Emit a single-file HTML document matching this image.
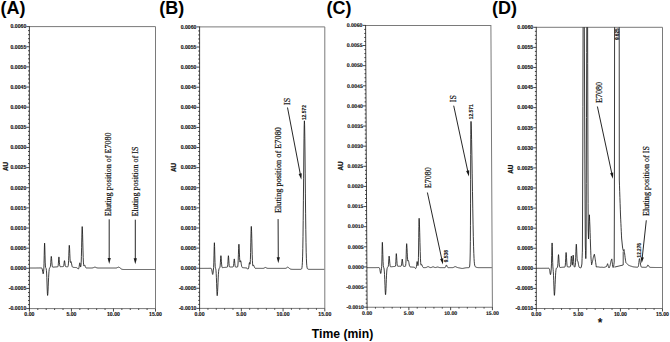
<!DOCTYPE html><html><head><meta charset="utf-8"><style>html,body{margin:0;padding:0;background:#fff;width:670px;height:342px;overflow:hidden}svg{display:block}</style></head><body><svg width="670" height="342" viewBox="0 0 670 342">
<rect width="670" height="342" fill="#fff"/>
<defs>
<clipPath id="clipA"><rect x="29.4" y="26.6" width="126.1" height="312.0"/></clipPath>
<clipPath id="clipB"><rect x="199.6" y="26.9" width="125.20000000000002" height="311.5"/></clipPath>
<clipPath id="clipC"><rect x="367.1" y="25.4" width="125.29999999999995" height="311.8"/></clipPath>
<clipPath id="clipD"><rect x="536.3" y="27.3" width="126.20000000000005" height="311.2"/></clipPath>
</defs>
<g>
<path d="M29.4,26.6H155.5V308.6H29.4" fill="none" stroke="#7a7a7a" stroke-width="1"/>
<path d="M29.4,26.200000000000003V309.0" fill="none" stroke="#3a3a3a" stroke-width="0.95"/>
<path d="M26.40,26.60H29.4M28.00,30.63H29.4M28.00,34.66H29.4M28.00,38.69H29.4M28.00,42.71H29.4M26.40,46.74H29.4M28.00,50.77H29.4M28.00,54.80H29.4M28.00,58.83H29.4M28.00,62.86H29.4M26.40,66.89H29.4M28.00,70.91H29.4M28.00,74.94H29.4M28.00,78.97H29.4M28.00,83.00H29.4M26.40,87.03H29.4M28.00,91.06H29.4M28.00,95.09H29.4M28.00,99.11H29.4M28.00,103.14H29.4M26.40,107.17H29.4M28.00,111.20H29.4M28.00,115.23H29.4M28.00,119.26H29.4M28.00,123.29H29.4M26.40,127.31H29.4M28.00,131.34H29.4M28.00,135.37H29.4M28.00,139.40H29.4M28.00,143.43H29.4M26.40,147.46H29.4M28.00,151.49H29.4M28.00,155.51H29.4M28.00,159.54H29.4M28.00,163.57H29.4M26.40,167.60H29.4M28.00,171.63H29.4M28.00,175.66H29.4M28.00,179.69H29.4M28.00,183.71H29.4M26.40,187.74H29.4M28.00,191.77H29.4M28.00,195.80H29.4M28.00,199.83H29.4M28.00,203.86H29.4M26.40,207.89H29.4M28.00,211.91H29.4M28.00,215.94H29.4M28.00,219.97H29.4M28.00,224.00H29.4M26.40,228.03H29.4M28.00,232.06H29.4M28.00,236.09H29.4M28.00,240.11H29.4M28.00,244.14H29.4M26.40,248.17H29.4M28.00,252.20H29.4M28.00,256.23H29.4M28.00,260.26H29.4M28.00,264.29H29.4M26.40,268.31H29.4M28.00,272.34H29.4M28.00,276.37H29.4M28.00,280.40H29.4M28.00,284.43H29.4M26.40,288.46H29.4M28.00,292.49H29.4M28.00,296.51H29.4M28.00,300.54H29.4M28.00,304.57H29.4M26.40,308.60H29.4M29.40,308.6V311.6M37.81,308.6V310.0M46.21,308.6V310.0M54.62,308.6V310.0M63.03,308.6V310.0M71.43,308.6V311.6M79.84,308.6V310.0M88.25,308.6V310.0M96.65,308.6V310.0M105.06,308.6V310.0M113.47,308.6V311.6M121.87,308.6V310.0M130.28,308.6V310.0M138.69,308.6V310.0M147.09,308.6V310.0M155.50,308.6V311.6" stroke="#1a1a1a" stroke-width="0.8" fill="none"/>
<text x="26.30" y="28.40" font-family='"Liberation Sans", sans-serif' font-size="5.2" font-weight="bold" text-anchor="end" fill="#111" stroke="#111" stroke-width="0.12">0.0060</text>
<text x="26.30" y="48.54" font-family='"Liberation Sans", sans-serif' font-size="5.2" font-weight="bold" text-anchor="end" fill="#111" stroke="#111" stroke-width="0.12">0.0055</text>
<text x="26.30" y="68.69" font-family='"Liberation Sans", sans-serif' font-size="5.2" font-weight="bold" text-anchor="end" fill="#111" stroke="#111" stroke-width="0.12">0.0050</text>
<text x="26.30" y="88.83" font-family='"Liberation Sans", sans-serif' font-size="5.2" font-weight="bold" text-anchor="end" fill="#111" stroke="#111" stroke-width="0.12">0.0045</text>
<text x="26.30" y="108.97" font-family='"Liberation Sans", sans-serif' font-size="5.2" font-weight="bold" text-anchor="end" fill="#111" stroke="#111" stroke-width="0.12">0.0040</text>
<text x="26.30" y="129.11" font-family='"Liberation Sans", sans-serif' font-size="5.2" font-weight="bold" text-anchor="end" fill="#111" stroke="#111" stroke-width="0.12">0.0035</text>
<text x="26.30" y="149.26" font-family='"Liberation Sans", sans-serif' font-size="5.2" font-weight="bold" text-anchor="end" fill="#111" stroke="#111" stroke-width="0.12">0.0030</text>
<text x="26.30" y="169.40" font-family='"Liberation Sans", sans-serif' font-size="5.2" font-weight="bold" text-anchor="end" fill="#111" stroke="#111" stroke-width="0.12">0.0025</text>
<text x="26.30" y="189.54" font-family='"Liberation Sans", sans-serif' font-size="5.2" font-weight="bold" text-anchor="end" fill="#111" stroke="#111" stroke-width="0.12">0.0020</text>
<text x="26.30" y="209.69" font-family='"Liberation Sans", sans-serif' font-size="5.2" font-weight="bold" text-anchor="end" fill="#111" stroke="#111" stroke-width="0.12">0.0015</text>
<text x="26.30" y="229.83" font-family='"Liberation Sans", sans-serif' font-size="5.2" font-weight="bold" text-anchor="end" fill="#111" stroke="#111" stroke-width="0.12">0.0010</text>
<text x="26.30" y="249.97" font-family='"Liberation Sans", sans-serif' font-size="5.2" font-weight="bold" text-anchor="end" fill="#111" stroke="#111" stroke-width="0.12">0.0005</text>
<text x="26.30" y="270.11" font-family='"Liberation Sans", sans-serif' font-size="5.2" font-weight="bold" text-anchor="end" fill="#111" stroke="#111" stroke-width="0.12">0.0000</text>
<text x="26.30" y="290.26" font-family='"Liberation Sans", sans-serif' font-size="5.2" font-weight="bold" text-anchor="end" fill="#111" stroke="#111" stroke-width="0.12">-0.0005</text>
<text x="26.30" y="310.40" font-family='"Liberation Sans", sans-serif' font-size="5.2" font-weight="bold" text-anchor="end" fill="#111" stroke="#111" stroke-width="0.12">-0.0010</text>
<text x="29.40" y="315.90" font-family='"Liberation Sans", sans-serif' font-size="5.2" font-weight="bold" text-anchor="middle" fill="#111" stroke="#111" stroke-width="0.12">0.00</text>
<text x="71.43" y="315.90" font-family='"Liberation Sans", sans-serif' font-size="5.2" font-weight="bold" text-anchor="middle" fill="#111" stroke="#111" stroke-width="0.12">5.00</text>
<text x="113.47" y="315.90" font-family='"Liberation Sans", sans-serif' font-size="5.2" font-weight="bold" text-anchor="middle" fill="#111" stroke="#111" stroke-width="0.12">10.00</text>
<text x="155.50" y="315.90" font-family='"Liberation Sans", sans-serif' font-size="5.2" font-weight="bold" text-anchor="middle" fill="#111" stroke="#111" stroke-width="0.12">15.00</text>
<path d="M29.40,268.01 L29.60,268.01 L29.80,268.01 L30.00,268.01 L30.20,268.01 L30.40,268.01 L30.60,268.01 L30.80,268.01 L31.00,268.01 L31.20,268.01 L31.40,268.01 L31.60,268.01 L31.80,268.01 L32.00,268.01 L32.20,268.01 L32.40,268.01 L32.60,268.01 L32.80,268.01 L33.00,268.01 L33.20,268.01 L33.40,268.01 L33.60,268.01 L33.80,268.01 L34.00,268.00 L34.20,268.00 L34.40,268.00 L34.60,268.00 L34.80,268.00 L35.00,268.00 L35.20,268.00 L35.40,268.00 L35.60,268.00 L35.80,268.00 L36.00,268.00 L36.20,267.99 L36.40,267.99 L36.60,267.99 L36.80,267.99 L37.00,267.99 L37.20,267.99 L37.40,267.98 L37.60,267.98 L37.80,267.98 L38.00,267.98 L38.20,267.98 L38.40,267.97 L38.60,267.97 L38.80,267.97 L39.00,267.97 L39.20,267.96 L39.40,267.96 L39.60,267.96 L39.80,267.95 L40.00,267.95 L40.20,267.95 L40.40,267.94 L40.60,267.94 L40.80,267.94 L41.00,267.93 L41.20,267.94 L41.40,267.95 L41.60,268.00 L41.80,268.15 L42.00,268.46 L42.20,269.05 L42.40,269.98 L42.60,271.20 L42.80,272.49 L43.00,273.49 L43.20,273.86 L43.40,273.33 L43.60,271.79 L43.80,268.95 L44.00,263.80 L44.20,255.74 L44.40,247.10 L44.60,243.14 L44.80,246.78 L45.00,254.90 L45.20,262.09 L45.40,265.97 L45.60,267.39 L45.80,267.82 L46.00,268.14 L46.20,268.83 L46.40,270.30 L46.60,273.04 L46.80,277.35 L47.00,283.02 L47.20,289.02 L47.40,293.69 L47.60,295.45 L47.80,294.33 L48.00,291.24 L48.20,286.86 L48.40,282.07 L48.60,277.60 L48.80,273.96 L49.00,271.31 L49.20,269.58 L49.40,268.54 L49.60,267.97 L49.80,267.68 L50.00,267.49 L50.20,267.23 L50.40,266.57 L50.60,265.05 L50.80,262.37 L51.00,259.08 L51.20,256.71 L51.30,256.36 L51.40,256.62 L51.60,258.52 L51.80,261.38 L52.00,264.02 L52.20,265.79 L52.40,266.70 L52.60,267.07 L52.80,267.18 L53.00,267.19 L53.20,267.18 L53.40,267.16 L53.60,267.15 L53.80,267.13 L54.00,267.11 L54.20,267.09 L54.40,267.07 L54.60,267.05 L54.80,267.03 L55.00,267.02 L55.20,267.00 L55.40,266.98 L55.60,266.96 L55.80,266.94 L56.00,266.93 L56.20,266.91 L56.40,266.89 L56.60,266.88 L56.80,266.86 L57.00,266.84 L57.20,266.83 L57.40,266.81 L57.60,266.79 L57.80,266.72 L58.00,266.41 L58.20,265.43 L58.40,263.21 L58.60,259.95 L58.80,257.31 L58.90,256.92 L59.00,257.21 L59.20,259.30 L59.40,262.20 L59.60,264.56 L59.80,265.89 L60.00,266.44 L60.20,266.61 L60.40,266.64 L60.60,266.64 L60.80,266.64 L61.00,266.63 L61.20,266.63 L61.40,266.62 L61.60,266.62 L61.80,266.62 L62.00,266.62 L62.20,266.61 L62.40,266.61 L62.60,266.61 L62.80,266.61 L63.00,266.61 L63.20,266.59 L63.40,266.49 L63.60,266.15 L63.80,265.33 L64.00,263.89 L64.20,262.11 L64.40,260.83 L64.50,260.65 L64.60,260.84 L64.80,262.13 L65.00,263.92 L65.20,265.38 L65.40,266.21 L65.60,266.56 L65.80,266.68 L66.00,266.72 L66.20,266.73 L66.40,266.75 L66.60,266.76 L66.80,266.77 L67.00,266.79 L67.20,266.80 L67.40,266.81 L67.60,266.81 L67.80,266.76 L68.00,266.53 L68.20,265.78 L68.40,263.96 L68.60,260.44 L68.80,255.22 L69.00,249.57 L69.20,245.78 L69.30,245.25 L69.40,245.68 L69.60,248.76 L69.80,253.55 L70.00,258.15 L70.20,261.23 L70.40,262.46 L70.60,262.36 L70.80,261.79 L71.00,261.56 L71.20,261.93 L71.40,262.76 L71.60,263.85 L71.80,264.94 L72.00,265.85 L72.20,266.50 L72.40,266.90 L72.60,267.12 L72.80,267.24 L73.00,267.29 L73.20,267.33 L73.40,267.35 L73.60,267.37 L73.80,267.39 L74.00,267.40 L74.20,267.42 L74.40,267.44 L74.60,267.46 L74.80,267.47 L75.00,267.49 L75.20,267.51 L75.40,267.52 L75.60,267.54 L75.80,267.55 L76.00,267.57 L76.20,267.58 L76.40,267.60 L76.60,267.62 L76.80,267.65 L77.00,267.71 L77.20,267.83 L77.40,268.03 L77.60,268.31 L77.80,268.63 L78.00,268.90 L78.20,269.01 L78.40,268.92 L78.60,268.63 L78.80,268.16 L79.00,267.44 L79.20,266.32 L79.40,264.82 L79.60,263.40 L79.80,262.81 L80.00,263.39 L80.20,264.77 L80.40,266.14 L80.60,266.91 L80.80,266.80 L81.00,265.47 L81.20,262.26 L81.40,256.38 L81.60,247.77 L81.80,237.89 L82.00,229.76 L82.20,226.59 L82.40,228.83 L82.60,234.83 L82.80,242.85 L83.00,250.90 L83.20,257.52 L83.40,262.07 L83.60,264.62 L83.80,265.63 L84.00,265.66 L84.20,265.27 L84.40,264.95 L84.50,264.92 L84.60,264.97 L84.80,265.30 L85.00,265.83 L85.20,266.44 L85.40,266.99 L85.60,267.40 L85.80,267.68 L86.00,267.84 L86.20,267.92 L86.40,267.95 L86.60,267.97 L86.80,267.98 L87.00,267.98 L87.20,267.98 L87.40,267.98 L87.60,267.99 L87.80,267.99 L88.00,267.99 L88.20,267.99 L88.40,267.99 L88.60,267.99 L88.80,268.00 L89.00,268.00 L89.20,268.00 L89.40,268.00 L89.60,268.00 L89.80,268.00 L90.00,268.00 L90.20,268.00 L90.40,268.00 L90.60,268.00 L90.80,268.00 L91.00,268.00 L91.20,268.00 L91.40,268.00 L91.60,267.99 L91.80,267.98 L92.00,267.96 L92.20,267.94 L92.40,267.92 L92.60,267.88 L92.80,267.84 L93.00,267.78 L93.20,267.72 L93.40,267.64 L93.60,267.57 L93.80,267.49 L94.00,267.41 L94.20,267.34 L94.40,267.28 L94.60,267.24 L94.80,267.21 L94.90,267.21 L95.00,267.22 L95.20,267.24 L95.40,267.28 L95.60,267.34 L95.80,267.41 L96.00,267.49 L96.20,267.57 L96.40,267.65 L96.60,267.72 L96.80,267.78 L97.00,267.84 L97.20,267.89 L97.40,267.92 L97.60,267.95 L97.80,267.97 L98.00,267.99 L98.20,268.00 L98.40,268.00 L98.60,268.01 L98.80,268.01 L99.00,268.01 L99.20,268.01 L99.40,268.01 L99.60,268.01 L99.80,268.01 L100.00,268.01 L100.20,268.01 L100.40,268.01 L100.60,268.01 L100.80,268.01 L101.00,268.01 L101.20,268.01 L101.40,268.01 L101.60,268.01 L101.80,268.01 L102.00,268.01 L102.20,268.01 L102.40,268.01 L102.60,268.01 L102.80,268.01 L103.00,268.01 L103.20,268.01 L103.40,268.01 L103.60,268.01 L103.80,268.01 L104.00,268.01 L104.20,268.01 L104.40,268.01 L104.60,268.01 L104.80,268.01 L105.00,268.01 L105.20,268.01 L105.40,268.01 L105.60,268.01 L105.80,268.01 L106.00,268.01 L106.20,268.01 L106.40,268.01 L106.60,268.01 L106.80,268.01 L107.00,268.01 L107.20,268.01 L107.40,268.01 L107.60,268.01 L107.80,268.01 L108.00,268.01 L108.20,268.01 L108.40,268.01 L108.60,268.01 L108.80,268.01 L109.00,268.01 L109.20,268.01 L109.40,268.01 L109.60,268.01 L109.80,268.01 L110.00,268.01 L110.20,268.01 L110.40,268.01 L110.60,268.01 L110.80,268.01 L111.00,268.01 L111.20,268.01 L111.40,268.01 L111.60,268.01 L111.80,268.01 L112.00,268.01 L112.20,268.01 L112.40,268.01 L112.60,268.01 L112.80,268.01 L113.00,268.01 L113.20,268.01 L113.40,268.01 L113.60,268.01 L113.80,268.01 L114.00,268.01 L114.20,268.01 L114.40,268.01 L114.60,268.01 L114.80,268.01 L115.00,268.01 L115.20,268.01 L115.40,268.01 L115.60,268.01 L115.80,268.00 L116.00,267.99 L116.20,267.97 L116.40,267.94 L116.60,267.90 L116.80,267.84 L117.00,267.77 L117.20,267.69 L117.40,267.59 L117.60,267.49 L117.80,267.39 L118.00,267.30 L118.20,267.23 L118.40,267.19 L118.60,267.20 L118.80,267.23 L119.00,267.28 L119.20,267.36 L119.40,267.46 L119.60,267.58 L119.80,267.72 L120.00,267.88 L120.20,268.05 L120.40,268.22 L120.60,268.39 L120.80,268.56 L121.00,268.72 L121.20,268.87 L121.40,268.99 L121.60,269.10 L121.80,269.19 L122.00,269.27 L122.20,269.33 L122.40,269.37 L122.60,269.41 L122.80,269.43 L123.00,269.45 L123.20,269.47 L123.40,269.48 L123.60,269.49 L123.80,269.50 L124.00,269.50 L124.20,269.50 L124.40,269.51 L124.60,269.51 L124.80,269.51 L125.00,269.51 L125.20,269.51 L125.40,269.51 L125.60,269.51 L125.80,269.51 L126.00,269.51 L126.20,269.51 L126.40,269.51 L126.60,269.51 L126.80,269.51 L127.00,269.51 L127.20,269.51 L127.40,269.51 L127.60,269.51 L127.80,269.51 L128.00,269.51 L128.20,269.51 L128.40,269.51 L128.60,269.51 L128.80,269.51 L129.00,269.51 L129.20,269.51 L129.40,269.51 L129.60,269.51 L129.80,269.51 L130.00,269.51 L130.20,269.51 L130.40,269.51 L130.60,269.51 L130.80,269.51 L131.00,269.51 L131.20,269.51 L131.40,269.51 L131.60,269.51 L131.80,269.51 L132.00,269.51 L132.20,269.51 L132.40,269.51 L132.60,269.51 L132.80,269.51 L133.00,269.51 L133.20,269.51 L133.40,269.51 L133.60,269.51 L133.80,269.51 L134.00,269.51 L134.20,269.51 L134.40,269.51 L134.60,269.51 L134.80,269.51 L135.00,269.51 L135.20,269.51 L135.40,269.51 L135.60,269.51 L135.80,269.51 L136.00,269.51 L136.20,269.51 L136.40,269.51 L136.60,269.51 L136.80,269.51 L137.00,269.51 L137.20,269.51 L137.40,269.51 L137.60,269.51 L137.80,269.51 L138.00,269.51 L138.20,269.51 L138.40,269.51 L138.60,269.51 L138.80,269.51 L139.00,269.51 L139.20,269.51 L139.40,269.51 L139.60,269.51 L139.80,269.51 L140.00,269.51 L140.20,269.51 L140.40,269.51 L140.60,269.51 L140.80,269.51 L141.00,269.51 L141.20,269.51 L141.40,269.51 L141.60,269.51 L141.80,269.51 L142.00,269.51 L142.20,269.51 L142.40,269.51 L142.60,269.51 L142.80,269.51 L143.00,269.51 L143.20,269.51 L143.40,269.51 L143.60,269.51 L143.80,269.51 L144.00,269.51 L144.20,269.51 L144.40,269.51 L144.60,269.51 L144.80,269.51 L145.00,269.51 L145.20,269.51 L145.40,269.51 L145.60,269.51 L145.80,269.51 L146.00,269.51 L146.20,269.51 L146.40,269.51 L146.60,269.51 L146.80,269.51 L147.00,269.51 L147.20,269.51 L147.40,269.51 L147.60,269.51 L147.80,269.51 L148.00,269.51 L148.20,269.51 L148.40,269.51 L148.60,269.51 L148.80,269.51 L149.00,269.51 L149.20,269.51 L149.40,269.51 L149.60,269.51 L149.80,269.51 L150.00,269.51 L150.20,269.51 L150.40,269.51 L150.60,269.51 L150.80,269.51 L151.00,269.51 L151.20,269.51 L151.40,269.51 L151.60,269.51 L151.80,269.51 L152.00,269.51 L152.20,269.51 L152.40,269.51 L152.60,269.51 L152.80,269.51 L153.00,269.51 L153.20,269.51 L153.40,269.51 L153.60,269.51 L153.80,269.51 L154.00,269.51 L154.20,269.51 L154.40,269.51 L154.60,269.51 L154.80,269.51 L155.00,269.51" fill="none" stroke="#1a1a1a" stroke-width="0.85" stroke-linejoin="round" clip-path="url(#clipA)"/>
</g>
<text transform="translate(7.80,166.50) rotate(-90)" font-family='"Liberation Sans", sans-serif' font-weight="bold" font-size="6.3" text-anchor="middle" fill="#111" stroke="#111" stroke-width="0.25">AU</text>
<g>
<path d="M199.6,26.9H324.8V308.4H199.6" fill="none" stroke="#7a7a7a" stroke-width="1"/>
<path d="M199.6,26.5V308.79999999999995" fill="none" stroke="#3a3a3a" stroke-width="0.95"/>
<path d="M196.60,26.90H199.6M198.20,30.92H199.6M198.20,34.94H199.6M198.20,38.96H199.6M198.20,42.99H199.6M196.60,47.01H199.6M198.20,51.03H199.6M198.20,55.05H199.6M198.20,59.07H199.6M198.20,63.09H199.6M196.60,67.11H199.6M198.20,71.14H199.6M198.20,75.16H199.6M198.20,79.18H199.6M198.20,83.20H199.6M196.60,87.22H199.6M198.20,91.24H199.6M198.20,95.26H199.6M198.20,99.29H199.6M198.20,103.31H199.6M196.60,107.33H199.6M198.20,111.35H199.6M198.20,115.37H199.6M198.20,119.39H199.6M198.20,123.41H199.6M196.60,127.44H199.6M198.20,131.46H199.6M198.20,135.48H199.6M198.20,139.50H199.6M198.20,143.52H199.6M196.60,147.54H199.6M198.20,151.56H199.6M198.20,155.59H199.6M198.20,159.61H199.6M198.20,163.63H199.6M196.60,167.65H199.6M198.20,171.67H199.6M198.20,175.69H199.6M198.20,179.71H199.6M198.20,183.74H199.6M196.60,187.76H199.6M198.20,191.78H199.6M198.20,195.80H199.6M198.20,199.82H199.6M198.20,203.84H199.6M196.60,207.86H199.6M198.20,211.89H199.6M198.20,215.91H199.6M198.20,219.93H199.6M198.20,223.95H199.6M196.60,227.97H199.6M198.20,231.99H199.6M198.20,236.01H199.6M198.20,240.04H199.6M198.20,244.06H199.6M196.60,248.08H199.6M198.20,252.10H199.6M198.20,256.12H199.6M198.20,260.14H199.6M198.20,264.16H199.6M196.60,268.19H199.6M198.20,272.21H199.6M198.20,276.23H199.6M198.20,280.25H199.6M198.20,284.27H199.6M196.60,288.29H199.6M198.20,292.31H199.6M198.20,296.34H199.6M198.20,300.36H199.6M198.20,304.38H199.6M196.60,308.40H199.6M199.60,308.4V311.4M207.95,308.4V309.79999999999995M216.29,308.4V309.79999999999995M224.64,308.4V309.79999999999995M232.99,308.4V309.79999999999995M241.33,308.4V311.4M249.68,308.4V309.79999999999995M258.03,308.4V309.79999999999995M266.37,308.4V309.79999999999995M274.72,308.4V309.79999999999995M283.07,308.4V311.4M291.41,308.4V309.79999999999995M299.76,308.4V309.79999999999995M308.11,308.4V309.79999999999995M316.45,308.4V309.79999999999995M324.80,308.4V311.4" stroke="#1a1a1a" stroke-width="0.8" fill="none"/>
<text x="196.50" y="28.70" font-family='"Liberation Sans", sans-serif' font-size="5.2" font-weight="bold" text-anchor="end" fill="#111" stroke="#111" stroke-width="0.12">0.0060</text>
<text x="196.50" y="48.81" font-family='"Liberation Sans", sans-serif' font-size="5.2" font-weight="bold" text-anchor="end" fill="#111" stroke="#111" stroke-width="0.12">0.0055</text>
<text x="196.50" y="68.91" font-family='"Liberation Sans", sans-serif' font-size="5.2" font-weight="bold" text-anchor="end" fill="#111" stroke="#111" stroke-width="0.12">0.0050</text>
<text x="196.50" y="89.02" font-family='"Liberation Sans", sans-serif' font-size="5.2" font-weight="bold" text-anchor="end" fill="#111" stroke="#111" stroke-width="0.12">0.0045</text>
<text x="196.50" y="109.13" font-family='"Liberation Sans", sans-serif' font-size="5.2" font-weight="bold" text-anchor="end" fill="#111" stroke="#111" stroke-width="0.12">0.0040</text>
<text x="196.50" y="129.24" font-family='"Liberation Sans", sans-serif' font-size="5.2" font-weight="bold" text-anchor="end" fill="#111" stroke="#111" stroke-width="0.12">0.0035</text>
<text x="196.50" y="149.34" font-family='"Liberation Sans", sans-serif' font-size="5.2" font-weight="bold" text-anchor="end" fill="#111" stroke="#111" stroke-width="0.12">0.0030</text>
<text x="196.50" y="169.45" font-family='"Liberation Sans", sans-serif' font-size="5.2" font-weight="bold" text-anchor="end" fill="#111" stroke="#111" stroke-width="0.12">0.0025</text>
<text x="196.50" y="189.56" font-family='"Liberation Sans", sans-serif' font-size="5.2" font-weight="bold" text-anchor="end" fill="#111" stroke="#111" stroke-width="0.12">0.0020</text>
<text x="196.50" y="209.66" font-family='"Liberation Sans", sans-serif' font-size="5.2" font-weight="bold" text-anchor="end" fill="#111" stroke="#111" stroke-width="0.12">0.0015</text>
<text x="196.50" y="229.77" font-family='"Liberation Sans", sans-serif' font-size="5.2" font-weight="bold" text-anchor="end" fill="#111" stroke="#111" stroke-width="0.12">0.0010</text>
<text x="196.50" y="249.88" font-family='"Liberation Sans", sans-serif' font-size="5.2" font-weight="bold" text-anchor="end" fill="#111" stroke="#111" stroke-width="0.12">0.0005</text>
<text x="196.50" y="269.99" font-family='"Liberation Sans", sans-serif' font-size="5.2" font-weight="bold" text-anchor="end" fill="#111" stroke="#111" stroke-width="0.12">0.0000</text>
<text x="196.50" y="290.09" font-family='"Liberation Sans", sans-serif' font-size="5.2" font-weight="bold" text-anchor="end" fill="#111" stroke="#111" stroke-width="0.12">-0.0005</text>
<text x="196.50" y="310.20" font-family='"Liberation Sans", sans-serif' font-size="5.2" font-weight="bold" text-anchor="end" fill="#111" stroke="#111" stroke-width="0.12">-0.0010</text>
<text x="199.60" y="315.70" font-family='"Liberation Sans", sans-serif' font-size="5.2" font-weight="bold" text-anchor="middle" fill="#111" stroke="#111" stroke-width="0.12">0.00</text>
<text x="241.33" y="315.70" font-family='"Liberation Sans", sans-serif' font-size="5.2" font-weight="bold" text-anchor="middle" fill="#111" stroke="#111" stroke-width="0.12">5.00</text>
<text x="283.07" y="315.70" font-family='"Liberation Sans", sans-serif' font-size="5.2" font-weight="bold" text-anchor="middle" fill="#111" stroke="#111" stroke-width="0.12">10.00</text>
<text x="324.80" y="315.70" font-family='"Liberation Sans", sans-serif' font-size="5.2" font-weight="bold" text-anchor="middle" fill="#111" stroke="#111" stroke-width="0.12">15.00</text>
<path d="M199.60,268.38 L199.80,268.38 L200.00,268.38 L200.20,268.38 L200.40,268.38 L200.60,268.38 L200.80,268.38 L201.00,268.38 L201.20,268.38 L201.40,268.38 L201.60,268.38 L201.80,268.38 L202.00,268.38 L202.20,268.38 L202.40,268.38 L202.60,268.38 L202.80,268.38 L203.00,268.38 L203.20,268.38 L203.40,268.38 L203.60,268.38 L203.80,268.38 L204.00,268.38 L204.20,268.38 L204.40,268.38 L204.60,268.37 L204.80,268.37 L205.00,268.37 L205.20,268.37 L205.40,268.37 L205.60,268.37 L205.80,268.37 L206.00,268.37 L206.20,268.37 L206.40,268.37 L206.60,268.36 L206.80,268.36 L207.00,268.36 L207.20,268.36 L207.40,268.36 L207.60,268.36 L207.80,268.35 L208.00,268.35 L208.20,268.35 L208.40,268.35 L208.60,268.35 L208.80,268.34 L209.00,268.34 L209.20,268.34 L209.40,268.34 L209.60,268.33 L209.80,268.33 L210.00,268.33 L210.20,268.32 L210.40,268.32 L210.60,268.32 L210.80,268.33 L211.00,268.36 L211.20,268.45 L211.40,268.68 L211.60,269.13 L211.80,269.91 L212.00,271.04 L212.20,272.38 L212.40,273.62 L212.60,274.37 L212.70,274.46 L212.80,274.34 L213.00,273.43 L213.20,271.94 L213.40,270.14 L213.60,267.59 L213.80,262.91 L214.00,255.16 L214.20,246.62 L214.40,242.72 L214.60,246.54 L214.80,254.92 L215.00,262.32 L215.20,266.34 L215.40,267.86 L215.60,268.48 L215.80,269.21 L216.00,270.68 L216.20,273.40 L216.40,277.69 L216.60,283.32 L216.80,289.27 L217.00,293.91 L217.20,295.66 L217.40,294.55 L217.60,291.48 L217.80,287.14 L218.00,282.37 L218.20,277.94 L218.40,274.33 L218.60,271.70 L218.80,269.98 L219.00,268.95 L219.20,268.39 L219.40,268.10 L219.60,267.91 L219.80,267.63 L220.00,266.91 L220.20,265.23 L220.40,262.29 L220.60,258.68 L220.80,256.07 L220.90,255.68 L221.00,255.97 L221.20,258.07 L221.40,261.21 L221.60,264.11 L221.80,266.07 L222.00,267.08 L222.20,267.48 L222.40,267.60 L222.60,267.62 L222.80,267.61 L223.00,267.59 L223.20,267.57 L223.40,267.56 L223.60,267.54 L223.80,267.52 L224.00,267.50 L224.20,267.48 L224.40,267.46 L224.60,267.44 L224.80,267.42 L225.00,267.41 L225.20,267.39 L225.40,267.37 L225.60,267.35 L225.80,267.33 L226.00,267.32 L226.20,267.30 L226.40,267.28 L226.60,267.26 L226.80,267.25 L227.00,267.23 L227.20,267.18 L227.40,267.01 L227.60,266.35 L227.80,264.55 L228.00,261.22 L228.20,257.46 L228.40,255.73 L228.60,257.06 L228.80,260.19 L229.00,263.39 L229.20,265.54 L229.40,266.57 L229.60,266.93 L229.80,267.03 L230.00,267.04 L230.20,267.03 L230.40,267.03 L230.60,267.02 L230.80,267.01 L231.00,267.01 L231.20,267.00 L231.40,267.00 L231.60,266.99 L231.80,266.99 L232.00,266.99 L232.20,266.99 L232.40,266.99 L232.60,266.98 L232.80,266.98 L233.00,266.95 L233.20,266.80 L233.40,266.35 L233.60,265.24 L233.80,263.29 L234.00,260.89 L234.20,259.16 L234.30,258.91 L234.40,259.16 L234.60,260.91 L234.80,263.32 L235.00,265.28 L235.20,266.40 L235.40,266.87 L235.60,267.02 L235.80,267.06 L236.00,267.08 L236.20,267.09 L236.40,267.11 L236.60,267.12 L236.80,267.13 L237.00,267.14 L237.20,267.14 L237.40,267.08 L237.60,266.83 L237.80,266.04 L238.00,264.09 L238.20,260.34 L238.40,254.79 L238.60,248.77 L238.80,244.73 L238.90,244.17 L239.00,244.62 L239.20,247.89 L239.40,252.95 L239.60,257.77 L239.80,260.93 L240.00,262.07 L240.20,261.75 L240.40,260.98 L240.60,260.67 L240.80,261.11 L241.00,262.11 L241.20,263.43 L241.40,264.76 L241.60,265.87 L241.80,266.65 L242.00,267.13 L242.20,267.40 L242.40,267.54 L242.60,267.60 L242.80,267.64 L243.00,267.67 L243.20,267.69 L243.40,267.70 L243.60,267.72 L243.80,267.74 L244.00,267.76 L244.20,267.78 L244.40,267.79 L244.60,267.81 L244.80,267.83 L245.00,267.84 L245.20,267.86 L245.40,267.88 L245.60,267.89 L245.80,267.91 L246.00,267.92 L246.20,267.94 L246.40,267.97 L246.60,268.01 L246.80,268.09 L247.00,268.23 L247.20,268.46 L247.40,268.75 L247.60,269.04 L247.80,269.22 L247.90,269.25 L248.00,269.23 L248.20,269.05 L248.40,268.69 L248.60,268.10 L248.80,267.13 L249.00,265.66 L249.20,263.94 L249.40,262.70 L249.50,262.49 L249.60,262.60 L249.80,263.47 L250.00,264.18 L250.20,263.25 L250.40,259.47 L250.60,252.38 L250.80,242.82 L251.00,233.29 L251.20,227.25 L251.30,226.42 L251.40,227.00 L251.60,231.35 L251.80,238.70 L252.00,247.07 L252.20,254.63 L252.40,260.31 L252.60,263.86 L252.80,265.60 L253.00,266.06 L253.20,265.83 L253.40,265.43 L253.60,265.27 L253.80,265.45 L254.00,265.90 L254.20,266.49 L254.40,267.08 L254.60,267.57 L254.80,267.91 L255.00,268.13 L255.20,268.24 L255.40,268.30 L255.60,268.32 L255.80,268.33 L256.00,268.34 L256.20,268.34 L256.40,268.34 L256.60,268.35 L256.80,268.35 L257.00,268.35 L257.20,268.35 L257.40,268.35 L257.60,268.36 L257.80,268.36 L258.00,268.36 L258.20,268.36 L258.40,268.36 L258.60,268.36 L258.80,268.37 L259.00,268.37 L259.20,268.37 L259.40,268.37 L259.60,268.37 L259.80,268.37 L260.00,268.37 L260.20,268.37 L260.40,268.37 L260.60,268.37 L260.80,268.38 L261.00,268.38 L261.20,268.38 L261.40,268.38 L261.60,268.38 L261.80,268.38 L262.00,268.38 L262.20,268.38 L262.40,268.38 L262.60,268.38 L262.80,268.37 L263.00,268.37 L263.20,268.35 L263.40,268.33 L263.60,268.29 L263.80,268.23 L264.00,268.14 L264.20,268.03 L264.40,267.91 L264.60,267.77 L264.80,267.64 L265.00,267.54 L265.20,267.49 L265.30,267.48 L265.40,267.49 L265.60,267.52 L265.80,267.59 L266.00,267.68 L266.20,267.78 L266.40,267.89 L266.60,268.00 L266.80,268.09 L267.00,268.17 L267.20,268.24 L267.40,268.29 L267.60,268.32 L267.80,268.35 L268.00,268.36 L268.20,268.37 L268.40,268.38 L268.60,268.38 L268.80,268.38 L269.00,268.38 L269.20,268.38 L269.40,268.39 L269.60,268.39 L269.80,268.39 L270.00,268.39 L270.20,268.39 L270.40,268.39 L270.60,268.39 L270.80,268.39 L271.00,268.39 L271.20,268.39 L271.40,268.39 L271.60,268.39 L271.80,268.39 L272.00,268.39 L272.20,268.39 L272.40,268.39 L272.60,268.39 L272.80,268.39 L273.00,268.39 L273.20,268.39 L273.40,268.39 L273.60,268.39 L273.80,268.39 L274.00,268.39 L274.20,268.39 L274.40,268.39 L274.60,268.39 L274.80,268.39 L275.00,268.39 L275.20,268.39 L275.40,268.39 L275.60,268.39 L275.80,268.39 L276.00,268.39 L276.20,268.39 L276.40,268.39 L276.60,268.39 L276.80,268.39 L277.00,268.39 L277.20,268.39 L277.40,268.39 L277.60,268.39 L277.80,268.39 L278.00,268.39 L278.20,268.39 L278.40,268.39 L278.60,268.39 L278.80,268.39 L279.00,268.39 L279.20,268.39 L279.40,268.39 L279.60,268.39 L279.80,268.39 L280.00,268.39 L280.20,268.39 L280.40,268.39 L280.60,268.39 L280.80,268.39 L281.00,268.39 L281.20,268.39 L281.40,268.39 L281.60,268.39 L281.80,268.39 L282.00,268.39 L282.20,268.39 L282.40,268.39 L282.60,268.39 L282.80,268.39 L283.00,268.39 L283.20,268.39 L283.40,268.39 L283.60,268.39 L283.80,268.39 L284.00,268.39 L284.20,268.39 L284.40,268.39 L284.60,268.39 L284.80,268.38 L285.00,268.38 L285.20,268.37 L285.40,268.36 L285.60,268.34 L285.80,268.29 L286.00,268.23 L286.20,268.13 L286.40,268.00 L286.60,267.85 L286.80,267.67 L287.00,267.50 L287.20,267.35 L287.40,267.25 L287.60,267.23 L287.80,267.26 L288.00,267.32 L288.20,267.42 L288.40,267.54 L288.60,267.69 L288.80,267.85 L289.00,268.02 L289.20,268.19 L289.40,268.36 L289.60,268.52 L289.80,268.66 L290.00,268.79 L290.20,268.91 L290.40,269.01 L290.60,269.09 L290.80,269.16 L291.00,269.21 L291.20,269.25 L291.40,269.29 L291.60,269.31 L291.80,269.33 L292.00,269.34 L292.20,269.35 L292.40,269.36 L292.60,269.37 L292.80,269.37 L293.00,269.38 L293.20,269.38 L293.40,269.38 L293.60,269.38 L293.80,269.38 L294.00,269.38 L294.20,269.38 L294.40,269.38 L294.60,269.38 L294.80,269.38 L295.00,269.39 L295.20,269.39 L295.40,269.39 L295.60,269.39 L295.80,269.39 L296.00,269.39 L296.20,269.39 L296.40,269.39 L296.60,269.39 L296.80,269.39 L297.00,269.39 L297.20,269.39 L297.40,269.39 L297.60,269.39 L297.80,269.39 L298.00,269.39 L298.20,269.39 L298.40,269.39 L298.60,269.39 L298.80,269.39 L299.00,269.39 L299.20,269.39 L299.40,269.38 L299.60,269.38 L299.80,269.38 L300.00,269.38 L300.20,269.38 L300.40,269.37 L300.60,269.36 L300.80,269.34 L301.00,269.30 L301.20,269.24 L301.40,269.11 L301.60,268.86 L301.80,268.35 L302.00,267.36 L302.20,265.52 L302.40,262.27 L302.60,256.88 L302.80,248.53 L303.00,236.49 L303.20,220.44 L303.40,200.77 L303.60,178.84 L303.80,157.00 L304.00,138.20 L304.20,125.40 L304.40,120.82 L304.60,124.76 L304.80,136.07 L305.00,153.00 L305.20,173.12 L305.40,193.90 L305.60,213.23 L305.80,229.70 L306.00,242.68 L306.20,252.22 L306.40,258.79 L306.60,263.04 L306.80,265.66 L307.00,267.20 L307.20,268.08 L307.40,268.57 L307.60,268.86 L307.80,269.03 L308.00,269.14 L308.20,269.21 L308.40,269.26 L308.60,269.30 L308.80,269.33 L309.00,269.35 L309.20,269.36 L309.40,269.37 L309.60,269.37 L309.80,269.38 L310.00,269.38 L310.20,269.38 L310.40,269.38 L310.60,269.38 L310.80,269.39 L311.00,269.39 L311.20,269.39 L311.40,269.39 L311.60,269.39 L311.80,269.39 L312.00,269.39 L312.20,269.39 L312.40,269.39 L312.60,269.39 L312.80,269.39 L313.00,269.39 L313.20,269.39 L313.40,269.39 L313.60,269.39 L313.80,269.39 L314.00,269.39 L314.20,269.39 L314.40,269.39 L314.60,269.39 L314.80,269.39 L315.00,269.39 L315.20,269.39 L315.40,269.39 L315.60,269.39 L315.80,269.39 L316.00,269.39 L316.20,269.39 L316.40,269.39 L316.60,269.39 L316.80,269.39 L317.00,269.39 L317.20,269.39 L317.40,269.39 L317.60,269.39 L317.80,269.39 L318.00,269.39 L318.20,269.39 L318.40,269.39 L318.60,269.39 L318.80,269.39 L319.00,269.39 L319.20,269.39 L319.40,269.39 L319.60,269.39 L319.80,269.39 L320.00,269.39 L320.20,269.39 L320.40,269.39 L320.60,269.39 L320.80,269.39 L321.00,269.39 L321.20,269.39 L321.40,269.39 L321.60,269.39 L321.80,269.39 L322.00,269.39 L322.20,269.39 L322.40,269.39 L322.60,269.39 L322.80,269.39 L323.00,269.39 L323.20,269.39 L323.40,269.39 L323.60,269.39 L323.80,269.39 L324.00,269.39 L324.20,269.39" fill="none" stroke="#1a1a1a" stroke-width="0.85" stroke-linejoin="round" clip-path="url(#clipB)"/>
</g>
<text transform="translate(176.00,167.40) rotate(-90)" font-family='"Liberation Sans", sans-serif' font-weight="bold" font-size="6.3" text-anchor="middle" fill="#111" stroke="#111" stroke-width="0.25">AU</text>
<g transform="translate(0,307.2) skewX(0.305) translate(0,-307.2)">
<path d="M367.1,25.4H492.4V307.2H367.1" fill="none" stroke="#7a7a7a" stroke-width="1"/>
<path d="M367.1,25.0V307.59999999999997" fill="none" stroke="#3a3a3a" stroke-width="0.95"/>
<path d="M364.10,25.40H367.1M365.70,29.43H367.1M365.70,33.45H367.1M365.70,37.48H367.1M365.70,41.50H367.1M364.10,45.53H367.1M365.70,49.55H367.1M365.70,53.58H367.1M365.70,57.61H367.1M365.70,61.63H367.1M364.10,65.66H367.1M365.70,69.68H367.1M365.70,73.71H367.1M365.70,77.73H367.1M365.70,81.76H367.1M364.10,85.79H367.1M365.70,89.81H367.1M365.70,93.84H367.1M365.70,97.86H367.1M365.70,101.89H367.1M364.10,105.91H367.1M365.70,109.94H367.1M365.70,113.97H367.1M365.70,117.99H367.1M365.70,122.02H367.1M364.10,126.04H367.1M365.70,130.07H367.1M365.70,134.09H367.1M365.70,138.12H367.1M365.70,142.15H367.1M364.10,146.17H367.1M365.70,150.20H367.1M365.70,154.22H367.1M365.70,158.25H367.1M365.70,162.27H367.1M364.10,166.30H367.1M365.70,170.33H367.1M365.70,174.35H367.1M365.70,178.38H367.1M365.70,182.40H367.1M364.10,186.43H367.1M365.70,190.45H367.1M365.70,194.48H367.1M365.70,198.51H367.1M365.70,202.53H367.1M364.10,206.56H367.1M365.70,210.58H367.1M365.70,214.61H367.1M365.70,218.63H367.1M365.70,222.66H367.1M364.10,226.69H367.1M365.70,230.71H367.1M365.70,234.74H367.1M365.70,238.76H367.1M365.70,242.79H367.1M364.10,246.81H367.1M365.70,250.84H367.1M365.70,254.87H367.1M365.70,258.89H367.1M365.70,262.92H367.1M364.10,266.94H367.1M365.70,270.97H367.1M365.70,274.99H367.1M365.70,279.02H367.1M365.70,283.05H367.1M364.10,287.07H367.1M365.70,291.10H367.1M365.70,295.12H367.1M365.70,299.15H367.1M365.70,303.17H367.1M364.10,307.20H367.1M367.10,307.2V310.2M375.45,307.2V308.59999999999997M383.81,307.2V308.59999999999997M392.16,307.2V308.59999999999997M400.51,307.2V308.59999999999997M408.87,307.2V310.2M417.22,307.2V308.59999999999997M425.57,307.2V308.59999999999997M433.93,307.2V308.59999999999997M442.28,307.2V308.59999999999997M450.63,307.2V310.2M458.99,307.2V308.59999999999997M467.34,307.2V308.59999999999997M475.69,307.2V308.59999999999997M484.05,307.2V308.59999999999997M492.40,307.2V310.2" stroke="#1a1a1a" stroke-width="0.8" fill="none"/>
<text x="364.00" y="27.20" font-family='"Liberation Sans", sans-serif' font-size="5.2" font-weight="bold" text-anchor="end" fill="#111" stroke="#111" stroke-width="0.12">0.0060</text>
<text x="364.00" y="47.33" font-family='"Liberation Sans", sans-serif' font-size="5.2" font-weight="bold" text-anchor="end" fill="#111" stroke="#111" stroke-width="0.12">0.0055</text>
<text x="364.00" y="67.46" font-family='"Liberation Sans", sans-serif' font-size="5.2" font-weight="bold" text-anchor="end" fill="#111" stroke="#111" stroke-width="0.12">0.0050</text>
<text x="364.00" y="87.59" font-family='"Liberation Sans", sans-serif' font-size="5.2" font-weight="bold" text-anchor="end" fill="#111" stroke="#111" stroke-width="0.12">0.0045</text>
<text x="364.00" y="107.71" font-family='"Liberation Sans", sans-serif' font-size="5.2" font-weight="bold" text-anchor="end" fill="#111" stroke="#111" stroke-width="0.12">0.0040</text>
<text x="364.00" y="127.84" font-family='"Liberation Sans", sans-serif' font-size="5.2" font-weight="bold" text-anchor="end" fill="#111" stroke="#111" stroke-width="0.12">0.0035</text>
<text x="364.00" y="147.97" font-family='"Liberation Sans", sans-serif' font-size="5.2" font-weight="bold" text-anchor="end" fill="#111" stroke="#111" stroke-width="0.12">0.0030</text>
<text x="364.00" y="168.10" font-family='"Liberation Sans", sans-serif' font-size="5.2" font-weight="bold" text-anchor="end" fill="#111" stroke="#111" stroke-width="0.12">0.0025</text>
<text x="364.00" y="188.23" font-family='"Liberation Sans", sans-serif' font-size="5.2" font-weight="bold" text-anchor="end" fill="#111" stroke="#111" stroke-width="0.12">0.0020</text>
<text x="364.00" y="208.36" font-family='"Liberation Sans", sans-serif' font-size="5.2" font-weight="bold" text-anchor="end" fill="#111" stroke="#111" stroke-width="0.12">0.0015</text>
<text x="364.00" y="228.49" font-family='"Liberation Sans", sans-serif' font-size="5.2" font-weight="bold" text-anchor="end" fill="#111" stroke="#111" stroke-width="0.12">0.0010</text>
<text x="364.00" y="248.61" font-family='"Liberation Sans", sans-serif' font-size="5.2" font-weight="bold" text-anchor="end" fill="#111" stroke="#111" stroke-width="0.12">0.0005</text>
<text x="364.00" y="268.74" font-family='"Liberation Sans", sans-serif' font-size="5.2" font-weight="bold" text-anchor="end" fill="#111" stroke="#111" stroke-width="0.12">0.0000</text>
<text x="364.00" y="288.87" font-family='"Liberation Sans", sans-serif' font-size="5.2" font-weight="bold" text-anchor="end" fill="#111" stroke="#111" stroke-width="0.12">-0.0005</text>
<text x="364.00" y="309.00" font-family='"Liberation Sans", sans-serif' font-size="5.2" font-weight="bold" text-anchor="end" fill="#111" stroke="#111" stroke-width="0.12">-0.0010</text>
<text x="367.10" y="315.20" font-family='"Liberation Sans", sans-serif' font-size="5.2" font-weight="bold" text-anchor="middle" fill="#111" stroke="#111" stroke-width="0.12">0.00</text>
<text x="408.87" y="315.20" font-family='"Liberation Sans", sans-serif' font-size="5.2" font-weight="bold" text-anchor="middle" fill="#111" stroke="#111" stroke-width="0.12">5.00</text>
<text x="450.63" y="315.20" font-family='"Liberation Sans", sans-serif' font-size="5.2" font-weight="bold" text-anchor="middle" fill="#111" stroke="#111" stroke-width="0.12">10.00</text>
<text x="492.40" y="315.20" font-family='"Liberation Sans", sans-serif' font-size="5.2" font-weight="bold" text-anchor="middle" fill="#111" stroke="#111" stroke-width="0.12">15.00</text>
<path d="M367.10,267.64 L367.30,267.64 L367.50,267.64 L367.70,267.64 L367.90,267.64 L368.10,267.64 L368.30,267.64 L368.50,267.64 L368.70,267.64 L368.90,267.64 L369.10,267.64 L369.30,267.64 L369.50,267.64 L369.70,267.64 L369.90,267.64 L370.10,267.64 L370.30,267.64 L370.50,267.64 L370.70,267.64 L370.90,267.64 L371.10,267.64 L371.30,267.63 L371.50,267.63 L371.70,267.63 L371.90,267.63 L372.10,267.63 L372.30,267.63 L372.50,267.63 L372.70,267.63 L372.90,267.63 L373.10,267.63 L373.30,267.63 L373.50,267.63 L373.70,267.62 L373.90,267.62 L374.10,267.62 L374.30,267.62 L374.50,267.62 L374.70,267.62 L374.90,267.62 L375.10,267.61 L375.30,267.61 L375.50,267.61 L375.70,267.61 L375.90,267.61 L376.10,267.60 L376.30,267.60 L376.50,267.60 L376.70,267.60 L376.90,267.59 L377.10,267.59 L377.30,267.59 L377.50,267.58 L377.70,267.58 L377.90,267.58 L378.10,267.57 L378.30,267.57 L378.50,267.56 L378.70,267.56 L378.90,267.56 L379.10,267.58 L379.30,267.63 L379.50,267.78 L379.70,268.09 L379.90,268.68 L380.10,269.61 L380.30,270.83 L380.50,272.12 L380.70,273.12 L380.90,273.50 L381.10,273.03 L381.30,271.83 L381.50,270.33 L381.70,268.71 L381.90,266.43 L382.10,262.02 L382.30,254.50 L382.50,246.15 L382.70,242.34 L382.90,246.10 L383.10,254.35 L383.30,261.63 L383.50,265.56 L383.70,267.02 L383.90,267.53 L384.10,268.01 L384.30,269.03 L384.50,271.05 L384.70,274.53 L384.90,279.54 L385.10,285.49 L385.30,290.98 L385.50,294.32 L385.60,294.76 L385.70,294.47 L385.90,292.33 L386.10,288.53 L386.30,283.89 L386.50,279.23 L386.70,275.18 L386.90,272.07 L387.10,269.92 L387.30,268.57 L387.50,267.81 L387.70,267.41 L387.90,267.20 L388.10,267.06 L388.30,266.82 L388.50,266.17 L388.70,264.66 L388.90,262.01 L389.10,258.75 L389.30,256.40 L389.40,256.05 L389.50,256.31 L389.70,258.20 L389.90,261.03 L390.10,263.64 L390.30,265.39 L390.50,266.30 L390.70,266.66 L390.90,266.77 L391.10,266.79 L391.30,266.77 L391.50,266.76 L391.70,266.74 L391.90,266.72 L392.10,266.70 L392.30,266.68 L392.50,266.66 L392.70,266.64 L392.90,266.63 L393.10,266.61 L393.30,266.59 L393.50,266.57 L393.70,266.56 L393.90,266.54 L394.10,266.52 L394.30,266.51 L394.50,266.49 L394.70,266.47 L394.90,266.46 L395.10,266.44 L395.30,266.42 L395.50,266.32 L395.70,265.93 L395.90,264.67 L396.10,261.80 L396.30,257.57 L396.50,254.16 L396.60,253.64 L396.70,254.03 L396.90,256.74 L397.10,260.50 L397.30,263.56 L397.50,265.29 L397.70,266.00 L397.90,266.22 L398.10,266.27 L398.30,266.27 L398.50,266.26 L398.70,266.26 L398.90,266.26 L399.10,266.25 L399.30,266.25 L399.50,266.25 L399.70,266.24 L399.90,266.24 L400.10,266.24 L400.30,266.24 L400.50,266.24 L400.70,266.25 L400.90,266.25 L401.10,266.24 L401.30,266.18 L401.50,265.94 L401.70,265.29 L401.90,263.93 L402.10,261.91 L402.30,259.93 L402.50,259.09 L402.70,259.95 L402.90,261.94 L403.10,263.98 L403.30,265.35 L403.50,266.02 L403.70,266.27 L403.90,266.35 L404.10,266.37 L404.30,266.39 L404.50,266.40 L404.70,266.41 L404.90,266.43 L405.10,266.44 L405.30,266.44 L405.50,266.38 L405.70,266.14 L405.90,265.35 L406.10,263.42 L406.30,259.71 L406.50,254.20 L406.70,248.23 L406.90,244.23 L407.00,243.66 L407.10,244.10 L407.30,247.29 L407.50,252.22 L407.70,256.88 L407.90,259.90 L408.10,261.02 L408.30,260.93 L408.50,260.60 L408.60,260.61 L408.70,260.77 L408.90,261.46 L409.10,262.55 L409.30,263.77 L409.50,264.88 L409.70,265.73 L409.90,266.30 L410.10,266.62 L410.30,266.80 L410.50,266.88 L410.70,266.93 L410.90,266.96 L411.10,266.98 L411.30,267.00 L411.50,267.02 L411.70,267.03 L411.90,267.05 L412.10,267.07 L412.30,267.08 L412.50,267.10 L412.70,267.12 L412.90,267.13 L413.10,267.15 L413.30,267.17 L413.50,267.18 L413.70,267.20 L413.90,267.21 L414.10,267.23 L414.30,267.25 L414.50,267.29 L414.70,267.37 L414.90,267.52 L415.10,267.74 L415.30,268.03 L415.50,268.32 L415.70,268.51 L415.80,268.54 L415.90,268.51 L416.10,268.33 L416.30,267.96 L416.50,267.36 L416.70,266.35 L416.90,264.80 L417.10,262.99 L417.30,261.71 L417.40,261.53 L417.50,261.70 L417.70,262.95 L417.90,264.59 L418.10,265.63 L418.30,265.32 L418.50,262.96 L418.70,257.71 L418.90,249.01 L419.10,237.65 L419.30,226.40 L419.50,219.28 L419.60,218.31 L419.70,218.99 L419.90,224.10 L420.10,232.75 L420.30,242.60 L420.50,251.50 L420.70,258.21 L420.90,262.43 L421.10,264.56 L421.30,265.21 L421.50,265.05 L421.70,264.69 L421.90,264.54 L422.10,264.73 L422.30,265.17 L422.50,265.76 L422.70,266.35 L422.90,266.84 L423.10,267.18 L423.30,267.40 L423.50,267.51 L423.70,267.56 L423.90,267.59 L424.10,267.60 L424.30,267.60 L424.50,267.61 L424.70,267.61 L424.90,267.61 L425.10,267.61 L425.30,267.60 L425.50,267.60 L425.70,267.58 L425.90,267.56 L426.10,267.53 L426.30,267.49 L426.50,267.43 L426.70,267.35 L426.90,267.25 L427.10,267.14 L427.30,267.02 L427.50,266.90 L427.70,266.79 L427.90,266.71 L428.10,266.65 L428.30,266.63 L428.50,266.65 L428.70,266.71 L428.90,266.80 L429.10,266.91 L429.30,267.03 L429.50,267.15 L429.70,267.26 L429.90,267.36 L430.10,267.43 L430.30,267.49 L430.50,267.53 L430.70,267.56 L430.90,267.56 L431.10,267.55 L431.30,267.52 L431.50,267.48 L431.70,267.41 L431.90,267.34 L432.10,267.25 L432.30,267.15 L432.50,267.06 L432.70,266.97 L432.90,266.90 L433.10,266.86 L433.30,266.84 L433.50,266.86 L433.70,266.90 L433.90,266.97 L434.10,267.06 L434.30,267.16 L434.50,267.25 L434.70,267.34 L434.90,267.41 L435.10,267.47 L435.30,267.51 L435.50,267.53 L435.70,267.53 L435.90,267.52 L436.10,267.49 L436.30,267.44 L436.50,267.38 L436.70,267.31 L436.90,267.24 L437.10,267.17 L437.30,267.11 L437.50,267.07 L437.70,267.05 L437.80,267.04 L437.90,267.05 L438.10,267.07 L438.30,267.11 L438.50,267.17 L438.70,267.24 L438.90,267.32 L439.10,267.39 L439.30,267.45 L439.50,267.50 L439.70,267.54 L439.90,267.58 L440.10,267.60 L440.30,267.62 L440.50,267.63 L440.70,267.63 L440.90,267.64 L441.10,267.64 L441.30,267.64 L441.50,267.64 L441.70,267.64 L441.90,267.64 L442.10,267.64 L442.30,267.64 L442.50,267.64 L442.70,267.64 L442.90,267.64 L443.10,267.64 L443.30,267.64 L443.50,267.64 L443.70,267.64 L443.90,267.64 L444.10,267.64 L444.30,267.64 L444.50,267.64 L444.70,267.64 L444.90,267.63 L445.10,267.61 L445.30,267.55 L445.50,267.41 L445.70,267.13 L445.90,266.67 L446.10,266.07 L446.30,265.47 L446.50,265.09 L446.60,265.04 L446.70,265.08 L446.90,265.35 L447.10,265.81 L447.30,266.33 L447.50,266.80 L447.70,267.16 L447.90,267.39 L448.10,267.53 L448.30,267.60 L448.50,267.63 L448.70,267.64 L448.90,267.64 L449.10,267.64 L449.30,267.64 L449.50,267.64 L449.70,267.64 L449.90,267.64 L450.10,267.64 L450.30,267.64 L450.50,267.64 L450.70,267.64 L450.90,267.64 L451.10,267.64 L451.30,267.64 L451.50,267.64 L451.70,267.64 L451.90,267.64 L452.10,267.64 L452.30,267.63 L452.50,267.63 L452.70,267.62 L452.90,267.60 L453.10,267.57 L453.30,267.53 L453.50,267.48 L453.70,267.41 L453.90,267.32 L454.10,267.21 L454.30,267.10 L454.50,266.98 L454.70,266.86 L454.90,266.76 L455.10,266.69 L455.30,266.65 L455.40,266.64 L455.50,266.65 L455.70,266.68 L455.90,266.73 L456.10,266.80 L456.30,266.90 L456.50,267.00 L456.70,267.10 L456.90,267.20 L457.10,267.30 L457.30,267.39 L457.50,267.47 L457.70,267.53 L457.90,267.59 L458.10,267.64 L458.30,267.69 L458.50,267.73 L458.70,267.76 L458.90,267.80 L459.10,267.84 L459.30,267.88 L459.50,267.92 L459.70,267.96 L459.90,268.01 L460.10,268.06 L460.30,268.10 L460.50,268.15 L460.70,268.20 L460.90,268.25 L461.10,268.29 L461.30,268.33 L461.50,268.37 L461.70,268.40 L461.90,268.42 L462.10,268.43 L462.30,268.44 L462.40,268.44 L462.50,268.44 L462.70,268.43 L462.90,268.42 L463.10,268.40 L463.30,268.37 L463.50,268.33 L463.70,268.29 L463.90,268.25 L464.10,268.20 L464.30,268.15 L464.50,268.10 L464.70,268.06 L464.90,268.01 L465.10,267.96 L465.30,267.92 L465.50,267.88 L465.70,267.85 L465.90,267.82 L466.10,267.79 L466.30,267.76 L466.50,267.74 L466.70,267.72 L466.90,267.71 L467.10,267.69 L467.30,267.68 L467.50,267.67 L467.70,267.67 L467.90,267.66 L468.10,267.66 L468.30,267.65 L468.50,267.65 L468.70,267.65 L468.90,267.64 L469.10,267.62 L469.30,267.56 L469.50,267.40 L469.70,266.98 L469.90,266.02 L470.10,263.98 L470.30,260.01 L470.50,252.98 L470.70,241.68 L470.90,225.27 L471.10,203.90 L471.30,179.26 L471.50,154.66 L471.70,134.51 L471.90,123.00 L472.00,121.40 L472.10,122.07 L472.30,128.08 L472.50,139.59 L472.70,155.20 L472.80,164.00 L472.90,173.14 L473.10,191.55 L473.30,208.89 L473.50,224.10 L473.70,236.61 L473.90,246.31 L474.10,253.43 L474.30,258.40 L474.50,261.71 L474.70,263.82 L474.90,265.12 L475.10,265.90 L475.30,266.38 L475.50,266.68 L475.70,266.87 L475.90,267.01 L476.10,267.12 L476.30,267.21 L476.50,267.28 L476.70,267.34 L476.90,267.40 L477.10,267.44 L477.30,267.48 L477.50,267.52 L477.70,267.54 L477.90,267.57 L478.10,267.58 L478.30,267.60 L478.50,267.61 L478.70,267.62 L478.90,267.62 L479.10,267.63 L479.30,267.63 L479.50,267.64 L479.70,267.64 L479.90,267.64 L480.10,267.64 L480.30,267.64 L480.50,267.64 L480.70,267.64 L480.90,267.64 L481.10,267.64 L481.30,267.64 L481.50,267.64 L481.70,267.64 L481.90,267.64 L482.10,267.64 L482.30,267.64 L482.50,267.64 L482.70,267.64 L482.90,267.64 L483.10,267.64 L483.30,267.64 L483.50,267.64 L483.70,267.64 L483.90,267.64 L484.10,267.64 L484.30,267.64 L484.50,267.64 L484.70,267.64 L484.90,267.64 L485.10,267.64 L485.30,267.64 L485.50,267.64 L485.70,267.64 L485.90,267.64 L486.10,267.64 L486.30,267.64 L486.50,267.64 L486.70,267.64 L486.90,267.64 L487.10,267.64 L487.30,267.64 L487.50,267.64 L487.70,267.64 L487.90,267.64 L488.10,267.64 L488.30,267.64 L488.50,267.64 L488.70,267.64 L488.90,267.64 L489.10,267.64 L489.30,267.64 L489.50,267.64 L489.70,267.64 L489.90,267.64 L490.10,267.64 L490.30,267.64 L490.50,267.64 L490.70,267.64 L490.90,267.64 L491.10,267.64 L491.30,267.64 L491.50,267.64 L491.70,267.64 L491.90,267.64" fill="none" stroke="#1a1a1a" stroke-width="0.85" stroke-linejoin="round" clip-path="url(#clipC)"/>
</g>
<text transform="translate(343.10,165.90) rotate(-90)" font-family='"Liberation Sans", sans-serif' font-weight="bold" font-size="6.3" text-anchor="middle" fill="#111" stroke="#111" stroke-width="0.25">AU</text>
<g>
<path d="M536.3,27.3H662.5V308.5H536.3" fill="none" stroke="#7a7a7a" stroke-width="1"/>
<path d="M536.3,26.900000000000002V308.9" fill="none" stroke="#3a3a3a" stroke-width="0.95"/>
<path d="M533.30,27.30H536.3M534.90,31.32H536.3M534.90,35.33H536.3M534.90,39.35H536.3M534.90,43.37H536.3M533.30,47.39H536.3M534.90,51.40H536.3M534.90,55.42H536.3M534.90,59.44H536.3M534.90,63.45H536.3M533.30,67.47H536.3M534.90,71.49H536.3M534.90,75.51H536.3M534.90,79.52H536.3M534.90,83.54H536.3M533.30,87.56H536.3M534.90,91.57H536.3M534.90,95.59H536.3M534.90,99.61H536.3M534.90,103.63H536.3M533.30,107.64H536.3M534.90,111.66H536.3M534.90,115.68H536.3M534.90,119.69H536.3M534.90,123.71H536.3M533.30,127.73H536.3M534.90,131.75H536.3M534.90,135.76H536.3M534.90,139.78H536.3M534.90,143.80H536.3M533.30,147.81H536.3M534.90,151.83H536.3M534.90,155.85H536.3M534.90,159.87H536.3M534.90,163.88H536.3M533.30,167.90H536.3M534.90,171.92H536.3M534.90,175.93H536.3M534.90,179.95H536.3M534.90,183.97H536.3M533.30,187.99H536.3M534.90,192.00H536.3M534.90,196.02H536.3M534.90,200.04H536.3M534.90,204.05H536.3M533.30,208.07H536.3M534.90,212.09H536.3M534.90,216.11H536.3M534.90,220.12H536.3M534.90,224.14H536.3M533.30,228.16H536.3M534.90,232.17H536.3M534.90,236.19H536.3M534.90,240.21H536.3M534.90,244.23H536.3M533.30,248.24H536.3M534.90,252.26H536.3M534.90,256.28H536.3M534.90,260.29H536.3M534.90,264.31H536.3M533.30,268.33H536.3M534.90,272.35H536.3M534.90,276.36H536.3M534.90,280.38H536.3M534.90,284.40H536.3M533.30,288.41H536.3M534.90,292.43H536.3M534.90,296.45H536.3M534.90,300.47H536.3M534.90,304.48H536.3M533.30,308.50H536.3M536.30,308.5V311.5M544.71,308.5V309.9M553.13,308.5V309.9M561.54,308.5V309.9M569.95,308.5V309.9M578.37,308.5V311.5M586.78,308.5V309.9M595.19,308.5V309.9M603.61,308.5V309.9M612.02,308.5V309.9M620.43,308.5V311.5M628.85,308.5V309.9M637.26,308.5V309.9M645.67,308.5V309.9M654.09,308.5V309.9M662.50,308.5V311.5" stroke="#1a1a1a" stroke-width="0.8" fill="none"/>
<text x="533.20" y="29.10" font-family='"Liberation Sans", sans-serif' font-size="5.2" font-weight="bold" text-anchor="end" fill="#111" stroke="#111" stroke-width="0.12">0.0060</text>
<text x="533.20" y="49.19" font-family='"Liberation Sans", sans-serif' font-size="5.2" font-weight="bold" text-anchor="end" fill="#111" stroke="#111" stroke-width="0.12">0.0055</text>
<text x="533.20" y="69.27" font-family='"Liberation Sans", sans-serif' font-size="5.2" font-weight="bold" text-anchor="end" fill="#111" stroke="#111" stroke-width="0.12">0.0050</text>
<text x="533.20" y="89.36" font-family='"Liberation Sans", sans-serif' font-size="5.2" font-weight="bold" text-anchor="end" fill="#111" stroke="#111" stroke-width="0.12">0.0045</text>
<text x="533.20" y="109.44" font-family='"Liberation Sans", sans-serif' font-size="5.2" font-weight="bold" text-anchor="end" fill="#111" stroke="#111" stroke-width="0.12">0.0040</text>
<text x="533.20" y="129.53" font-family='"Liberation Sans", sans-serif' font-size="5.2" font-weight="bold" text-anchor="end" fill="#111" stroke="#111" stroke-width="0.12">0.0035</text>
<text x="533.20" y="149.61" font-family='"Liberation Sans", sans-serif' font-size="5.2" font-weight="bold" text-anchor="end" fill="#111" stroke="#111" stroke-width="0.12">0.0030</text>
<text x="533.20" y="169.70" font-family='"Liberation Sans", sans-serif' font-size="5.2" font-weight="bold" text-anchor="end" fill="#111" stroke="#111" stroke-width="0.12">0.0025</text>
<text x="533.20" y="189.79" font-family='"Liberation Sans", sans-serif' font-size="5.2" font-weight="bold" text-anchor="end" fill="#111" stroke="#111" stroke-width="0.12">0.0020</text>
<text x="533.20" y="209.87" font-family='"Liberation Sans", sans-serif' font-size="5.2" font-weight="bold" text-anchor="end" fill="#111" stroke="#111" stroke-width="0.12">0.0015</text>
<text x="533.20" y="229.96" font-family='"Liberation Sans", sans-serif' font-size="5.2" font-weight="bold" text-anchor="end" fill="#111" stroke="#111" stroke-width="0.12">0.0010</text>
<text x="533.20" y="250.04" font-family='"Liberation Sans", sans-serif' font-size="5.2" font-weight="bold" text-anchor="end" fill="#111" stroke="#111" stroke-width="0.12">0.0005</text>
<text x="533.20" y="270.13" font-family='"Liberation Sans", sans-serif' font-size="5.2" font-weight="bold" text-anchor="end" fill="#111" stroke="#111" stroke-width="0.12">0.0000</text>
<text x="533.20" y="290.21" font-family='"Liberation Sans", sans-serif' font-size="5.2" font-weight="bold" text-anchor="end" fill="#111" stroke="#111" stroke-width="0.12">-0.0005</text>
<text x="533.20" y="310.30" font-family='"Liberation Sans", sans-serif' font-size="5.2" font-weight="bold" text-anchor="end" fill="#111" stroke="#111" stroke-width="0.12">-0.0010</text>
<text x="536.30" y="315.80" font-family='"Liberation Sans", sans-serif' font-size="5.2" font-weight="bold" text-anchor="middle" fill="#111" stroke="#111" stroke-width="0.12">0.00</text>
<text x="578.37" y="315.80" font-family='"Liberation Sans", sans-serif' font-size="5.2" font-weight="bold" text-anchor="middle" fill="#111" stroke="#111" stroke-width="0.12">5.00</text>
<text x="620.43" y="315.80" font-family='"Liberation Sans", sans-serif' font-size="5.2" font-weight="bold" text-anchor="middle" fill="#111" stroke="#111" stroke-width="0.12">10.00</text>
<text x="662.50" y="315.80" font-family='"Liberation Sans", sans-serif' font-size="5.2" font-weight="bold" text-anchor="middle" fill="#111" stroke="#111" stroke-width="0.12">15.00</text>
<path d="M536.30,268.33 L536.50,268.33 L536.70,268.33 L536.90,268.33 L537.10,268.33 L537.30,268.33 L537.50,268.33 L537.70,268.33 L537.90,268.33 L538.10,268.33 L538.30,268.32 L538.50,268.32 L538.70,268.32 L538.90,268.32 L539.10,268.32 L539.30,268.32 L539.50,268.32 L539.70,268.32 L539.90,268.32 L540.10,268.32 L540.30,268.32 L540.50,268.32 L540.70,268.32 L540.90,268.32 L541.10,268.32 L541.30,268.32 L541.50,268.32 L541.70,268.32 L541.90,268.31 L542.10,268.31 L542.30,268.31 L542.50,268.31 L542.70,268.31 L542.90,268.31 L543.10,268.31 L543.30,268.31 L543.50,268.31 L543.70,268.30 L543.90,268.30 L544.10,268.30 L544.30,268.30 L544.50,268.30 L544.70,268.30 L544.90,268.29 L545.10,268.29 L545.30,268.29 L545.50,268.29 L545.70,268.28 L545.90,268.28 L546.10,268.28 L546.30,268.28 L546.50,268.27 L546.70,268.27 L546.90,268.27 L547.10,268.26 L547.30,268.26 L547.50,268.25 L547.70,268.25 L547.90,268.25 L548.10,268.24 L548.30,268.24 L548.50,268.24 L548.70,268.26 L548.90,268.32 L549.10,268.47 L549.30,268.81 L549.50,269.45 L549.70,270.45 L549.90,271.78 L550.10,273.17 L550.30,274.26 L550.50,274.67 L550.70,274.15 L550.90,272.80 L551.10,270.89 L551.30,268.10 L551.50,263.21 L551.70,255.37 L551.90,246.84 L552.10,242.95 L552.30,246.72 L552.50,255.04 L552.70,262.51 L552.90,266.88 L553.10,269.30 L553.30,271.68 L553.50,275.20 L553.70,280.21 L553.90,286.13 L554.10,291.60 L554.30,294.93 L554.40,295.37 L554.50,295.09 L554.70,292.95 L554.90,289.17 L555.10,284.54 L555.30,279.90 L555.50,275.87 L555.70,272.77 L555.90,270.62 L556.10,269.29 L556.30,268.52 L556.50,268.12 L556.70,267.93 L556.90,267.83 L557.10,267.76 L557.30,267.61 L557.50,267.17 L557.70,265.96 L557.90,263.48 L558.10,259.80 L558.30,256.19 L558.50,254.65 L558.70,255.85 L558.90,258.85 L559.10,262.25 L559.30,264.90 L559.50,266.45 L559.70,267.16 L559.90,267.41 L560.10,267.47 L560.30,267.48 L560.50,267.46 L560.70,267.44 L560.90,267.42 L561.10,267.40 L561.30,267.39 L561.50,267.37 L561.70,267.35 L561.90,267.33 L562.10,267.31 L562.30,267.29 L562.50,267.28 L562.70,267.26 L562.90,267.24 L563.10,267.22 L563.30,267.21 L563.50,267.19 L563.70,267.17 L563.90,267.16 L564.10,267.14 L564.30,267.13 L564.50,267.11 L564.70,267.07 L564.90,266.93 L565.10,266.44 L565.30,265.10 L565.50,262.34 L565.70,258.24 L565.90,254.23 L566.10,252.51 L566.30,253.87 L566.50,257.23 L566.70,261.02 L566.90,263.99 L567.10,265.74 L567.30,266.55 L567.50,266.84 L567.70,266.92 L567.90,266.94 L568.10,266.94 L568.30,266.94 L568.50,266.93 L568.70,266.93 L568.90,266.93 L569.10,266.93 L569.30,266.93 L569.50,266.93 L569.70,266.93 L569.90,266.92 L570.10,266.88 L570.30,266.69 L570.50,266.07 L570.70,264.57 L570.90,261.91 L571.10,258.65 L571.30,256.30 L571.40,255.97 L571.50,256.31 L571.70,258.66 L571.90,261.89 L572.10,264.34 L572.30,265.17 L572.50,264.17 L572.70,261.48 L572.90,257.97 L573.10,255.42 L573.20,255.05 L573.30,255.43 L573.50,258.01 L573.70,261.59 L573.90,264.50 L574.10,266.16 L574.30,266.85 L574.50,267.08 L574.70,267.11 L574.90,266.99 L575.10,266.53 L575.30,265.26 L575.50,262.49 L575.70,257.78 L575.90,251.76 L576.10,246.42 L576.30,244.23 L576.50,245.88 L576.70,250.10 L576.90,254.97 L577.10,258.72 L577.30,260.63 L577.50,261.10 L577.70,261.09 L577.80,261.18 L577.90,261.39 L578.10,262.13 L578.30,263.23 L578.50,264.46 L578.70,265.57 L578.90,266.42 L579.10,266.98 L579.30,267.31 L579.50,267.48 L579.70,267.57 L579.90,267.62 L580.10,267.64 L580.20,268.00 L580.30,267.95 L580.50,267.85 L580.70,267.75 L580.90,267.65 L581.10,267.55 L581.20,267.50 L581.30,267.00 L581.50,266.00 L581.70,265.00 L581.90,264.00 L582.10,258.40 L582.30,252.80 L582.40,250.00 L582.50,225.00 L582.70,175.00 L582.80,150.00 L582.90,106.67 L583.10,20.00 L583.30,20.00 L583.50,20.00 L583.70,20.00 L583.90,20.00 L584.10,20.00 L584.30,20.00 L584.50,72.00 L584.70,124.00 L584.80,150.00 L584.90,169.00 L585.10,207.00 L585.30,245.00 L585.50,250.44 L585.70,255.88 L585.80,258.60 L585.90,255.73 L586.10,250.00 L586.30,183.33 L586.40,150.00 L586.50,117.50 L586.70,52.50 L586.80,20.00 L586.90,20.00 L587.10,20.00 L587.30,20.00 L587.50,20.00 L587.60,20.00 L587.70,63.33 L587.90,150.00 L588.10,203.33 L588.20,230.00 L588.30,233.00 L588.50,239.00 L588.70,232.00 L588.90,225.00 L589.10,220.92 L589.30,216.84 L589.40,214.80 L589.50,217.04 L589.70,221.52 L589.90,226.00 L590.10,232.33 L590.30,238.67 L590.50,245.00 L590.70,250.20 L590.90,255.40 L591.00,258.00 L591.10,259.13 L591.30,261.40 L591.50,263.67 L591.60,264.80 L591.70,264.42 L591.90,263.66 L592.10,262.90 L592.30,262.14 L592.50,261.38 L592.60,261.00 L592.70,260.50 L592.90,259.50 L593.10,258.50 L593.30,257.50 L593.50,256.50 L593.60,256.00 L593.70,255.77 L593.90,255.33 L594.10,254.87 L594.30,254.43 L594.40,254.20 L594.50,254.80 L594.70,256.00 L594.90,257.20 L595.10,258.40 L595.20,259.00 L595.30,259.73 L595.50,261.18 L595.70,262.64 L595.90,264.09 L596.10,265.55 L596.30,267.00 L596.50,266.98 L596.70,266.95 L596.90,266.93 L597.10,266.91 L597.30,266.88 L597.50,266.86 L597.70,266.84 L597.90,266.81 L598.00,266.80 L598.10,266.83 L598.30,266.88 L598.50,266.93 L598.70,266.98 L598.90,267.02 L599.10,267.08 L599.30,267.12 L599.50,267.18 L599.70,267.23 L599.90,267.27 L600.00,267.30 L600.10,267.30 L600.30,267.29 L600.50,267.27 L600.70,267.26 L600.90,267.25 L601.10,267.25 L601.30,267.24 L601.50,267.23 L601.70,267.21 L601.90,267.20 L602.00,267.20 L602.10,267.21 L602.30,267.25 L602.50,267.27 L602.70,267.31 L602.90,267.33 L603.10,267.37 L603.30,267.39 L603.50,267.43 L603.70,267.45 L603.90,267.49 L604.00,267.50 L604.10,267.46 L604.30,267.38 L604.50,267.30 L604.70,267.22 L604.90,267.14 L605.10,267.06 L605.30,266.98 L605.50,266.90 L605.70,266.82 L605.90,266.74 L606.10,266.66 L606.30,266.58 L606.50,266.50 L606.70,265.99 L606.90,265.48 L607.10,264.97 L607.30,264.46 L607.50,263.95 L607.60,263.70 L607.70,264.05 L607.90,264.75 L608.10,265.45 L608.30,266.15 L608.40,266.50 L608.50,266.75 L608.70,267.25 L608.90,267.75 L609.00,268.00 L609.10,267.80 L609.30,267.40 L609.50,267.00 L609.70,266.60 L609.90,266.20 L610.00,266.00 L610.10,265.50 L610.30,264.50 L610.50,263.50 L610.70,262.50 L610.90,261.50 L611.00,261.00 L611.10,260.74 L611.30,260.21 L611.50,259.69 L611.70,259.16 L611.80,258.90 L611.90,259.72 L612.10,261.36 L612.30,263.00 L612.50,264.72 L612.70,266.44 L612.80,267.30 L612.90,267.29 L613.10,267.26 L613.30,267.24 L613.50,267.21 L613.60,267.20 L613.70,266.33 L613.90,264.60 L614.10,262.87 L614.20,262.00 L614.30,231.00 L614.40,200.00 L614.50,110.00 L614.60,20.00 L614.70,20.00 L614.90,20.00 L615.10,20.00 L615.30,20.00 L615.50,20.00 L615.70,20.00 L615.90,20.00 L616.10,20.00 L616.30,20.00 L616.50,20.00 L616.70,20.00 L616.90,20.00 L617.10,20.00 L617.30,20.00 L617.50,20.00 L617.70,20.00 L617.90,20.00 L618.10,20.00 L618.30,20.00 L618.50,20.00 L618.70,20.00 L618.90,20.00 L619.10,20.00 L619.20,20.00 L619.30,180.00 L619.50,185.83 L619.70,191.67 L619.90,197.50 L620.10,203.33 L620.30,209.17 L620.50,215.00 L620.70,219.18 L620.90,223.36 L621.10,227.55 L621.30,231.73 L621.50,235.91 L621.60,238.00 L621.70,239.00 L621.90,241.00 L622.10,243.00 L622.30,245.00 L622.50,247.00 L622.70,248.17 L622.90,249.33 L623.10,250.50 L623.30,250.65 L623.50,250.80 L623.70,250.28 L623.90,249.76 L624.00,249.50 L624.10,250.14 L624.30,251.43 L624.50,252.71 L624.70,254.00 L624.90,255.67 L625.10,257.33 L625.30,259.00 L625.50,260.20 L625.70,261.40 L625.90,262.60 L626.10,262.83 L626.30,263.05 L626.50,263.27 L626.70,263.50 L626.90,263.69 L627.10,263.88 L627.30,264.07 L627.50,264.26 L627.70,264.44 L627.90,264.63 L628.10,264.82 L628.30,265.01 L628.50,265.20 L628.70,265.28 L628.90,265.36 L629.10,265.45 L629.30,265.53 L629.50,265.61 L629.70,265.69 L629.90,265.77 L630.10,265.85 L630.30,265.94 L630.50,266.02 L630.70,266.10 L630.90,266.16 L631.10,266.22 L631.30,266.28 L631.50,266.34 L631.70,266.40 L631.90,266.47 L632.10,266.53 L632.30,266.59 L632.50,266.65 L632.70,266.71 L632.90,266.77 L633.00,266.80 L633.10,266.81 L633.30,266.84 L633.50,266.86 L633.70,266.89 L633.90,266.91 L634.10,266.94 L634.30,266.96 L634.50,266.99 L634.70,267.01 L634.90,267.04 L635.10,267.06 L635.30,267.09 L635.50,267.11 L635.70,267.14 L635.90,267.16 L636.10,267.19 L636.20,267.20 L636.30,267.20 L636.50,267.20 L636.70,267.21 L636.90,267.21 L637.10,267.21 L637.30,267.21 L637.50,267.21 L637.70,267.18 L637.90,267.10 L638.10,266.89 L638.30,266.44 L638.50,265.59 L638.70,264.25 L638.90,262.50 L639.10,260.64 L639.30,259.20 L639.50,258.65 L639.70,259.00 L639.90,259.95 L640.10,261.30 L640.30,262.79 L640.50,264.16 L640.70,265.29 L640.90,266.11 L641.10,266.64 L641.30,266.96 L641.50,267.13 L641.70,267.22 L641.90,267.26 L642.10,267.28 L642.30,267.29 L642.50,267.29 L642.70,267.30 L642.90,267.30 L643.10,267.30 L643.30,267.31 L643.50,267.31 L643.70,267.31 L643.90,267.32 L644.10,267.32 L644.30,267.32 L644.50,267.32 L644.70,267.33 L644.90,267.33 L645.10,267.33 L645.30,267.34 L645.50,267.34 L645.70,267.34 L645.90,267.34 L646.10,267.32 L646.30,267.28 L646.50,267.20 L646.70,267.03 L646.90,266.76 L647.10,266.38 L647.30,265.91 L647.50,265.45 L647.70,265.10 L647.90,264.98 L648.10,265.05 L648.30,265.26 L648.50,265.57 L648.70,265.93 L648.90,266.29 L649.10,266.61 L649.30,266.88 L649.50,267.07 L649.70,267.21 L649.90,267.30 L650.10,267.35 L650.30,267.38 L650.50,267.40 L650.70,267.41 L650.90,267.42 L651.10,267.42 L651.30,267.43 L651.50,267.43 L651.70,267.43 L651.90,267.44 L652.10,267.44 L652.30,267.44 L652.50,267.44 L652.70,267.45 L652.90,267.45 L653.10,267.45 L653.30,267.46 L653.50,267.46 L653.70,267.46 L653.90,267.47 L654.10,267.47 L654.30,267.47 L654.50,267.47 L654.70,267.48 L654.90,267.48 L655.10,267.48 L655.30,267.49 L655.50,267.49 L655.70,267.49 L655.90,267.50 L656.10,267.50 L656.30,267.50 L656.50,267.50 L656.70,267.50 L656.90,267.50 L657.10,267.50 L657.30,267.50 L657.50,267.50 L657.70,267.50 L657.90,267.50 L658.10,267.50 L658.30,267.50 L658.50,267.50 L658.70,267.50 L658.90,267.50 L659.10,267.50 L659.30,267.50 L659.50,267.50 L659.70,267.50 L659.90,267.50 L660.10,267.50 L660.30,267.50 L660.50,267.50 L660.70,267.50 L660.90,267.50 L661.10,267.50 L661.30,267.50 L661.50,267.50 L661.70,267.50 L661.90,267.50" fill="none" stroke="#1a1a1a" stroke-width="0.85" stroke-linejoin="round" clip-path="url(#clipD)"/>
</g>
<text transform="translate(512.90,169.30) rotate(-90)" font-family='"Liberation Sans", sans-serif' font-weight="bold" font-size="6.3" text-anchor="middle" fill="#111" stroke="#111" stroke-width="0.25">AU</text>
<text x="0.5" y="14.0" font-family='"Liberation Sans", sans-serif' font-weight="bold" font-size="18" fill="#000">(A)</text>
<text x="159.3" y="14.0" font-family='"Liberation Sans", sans-serif' font-weight="bold" font-size="18" fill="#000">(B)</text>
<text x="326.4" y="14.0" font-family='"Liberation Sans", sans-serif' font-weight="bold" font-size="18" fill="#000">(C)</text>
<text x="492.1" y="14.0" font-family='"Liberation Sans", sans-serif' font-weight="bold" font-size="18" fill="#000">(D)</text>
<text x="342.5" y="338.2" font-family='"Liberation Sans", sans-serif' font-weight="bold" font-size="12.2" text-anchor="middle" fill="#000">Time (min)</text>
<text transform="translate(110.60,216.20) rotate(-90) scale(1,1.0)" font-family='"Liberation Serif", serif' font-size="8.1" font-weight="normal" fill="#111" stroke="#111" stroke-width="0.2">Eluting position of E7080</text>
<line x1="109.20" y1="219.30" x2="109.20" y2="259.00" stroke="#1a1a1a" stroke-width="0.95"/><path d="M109.20,264.00L107.60,258.00L110.80,258.00Z" fill="#1a1a1a"/>
<text transform="translate(137.60,216.40) rotate(-90) scale(1,1.0)" font-family='"Liberation Serif", serif' font-size="8.1" font-weight="normal" fill="#111" stroke="#111" stroke-width="0.2">Eluting position of IS</text>
<line x1="135.30" y1="219.70" x2="135.30" y2="259.20" stroke="#1a1a1a" stroke-width="0.95"/><path d="M135.30,264.20L133.70,258.20L136.90,258.20Z" fill="#1a1a1a"/>
<text transform="translate(281.00,213.00) rotate(-90) scale(1,1.0)" font-family='"Liberation Serif", serif' font-size="8.3" font-weight="normal" fill="#111" stroke="#111" stroke-width="0.2">Eluting position of E7080</text>
<line x1="278.10" y1="219.10" x2="278.28" y2="258.20" stroke="#1a1a1a" stroke-width="0.95"/><path d="M278.30,263.20L276.68,257.21L279.88,257.19Z" fill="#1a1a1a"/>
<text transform="translate(289.50,105.00) rotate(-90) scale(1,1.0)" font-family='"Liberation Serif", serif' font-size="8.1" font-weight="normal" fill="#111" stroke="#111" stroke-width="0.2">IS</text>
<line x1="287.50" y1="107.50" x2="300.39" y2="174.58" stroke="#1a1a1a" stroke-width="0.95"/><path d="M301.33,179.49L298.63,173.90L301.77,173.29Z" fill="#1a1a1a"/>
<text transform="translate(306.30,120.10) rotate(-90) scale(1,1.0)" font-family='"Liberation Sans", sans-serif' font-size="4.9" font-weight="bold" fill="#111" stroke="#111" stroke-width="0.12">12.572</text>
<text transform="translate(456.30,102.20) rotate(-90) scale(1,1.0)" font-family='"Liberation Serif", serif' font-size="8.1" font-weight="normal" fill="#111" stroke="#111" stroke-width="0.2">IS</text>
<line x1="453.70" y1="105.70" x2="467.89" y2="171.60" stroke="#1a1a1a" stroke-width="0.95"/><path d="M468.95,176.48L466.12,170.96L469.25,170.28Z" fill="#1a1a1a"/>
<text transform="translate(472.70,119.20) rotate(-90) scale(1,1.0)" font-family='"Liberation Sans", sans-serif' font-size="4.9" font-weight="bold" fill="#111" stroke="#111" stroke-width="0.12">12.571</text>
<text transform="translate(430.60,188.30) rotate(-90) scale(1,1.0)" font-family='"Liberation Serif", serif' font-size="8.1" font-weight="normal" fill="#111" stroke="#111" stroke-width="0.2">E7080</text>
<line x1="427.40" y1="192.50" x2="441.89" y2="259.60" stroke="#1a1a1a" stroke-width="0.95"/><path d="M442.95,264.48L440.12,258.96L443.24,258.28Z" fill="#1a1a1a"/>
<text transform="translate(448.30,262.30) rotate(-90) scale(1,1.0)" font-family='"Liberation Sans", sans-serif' font-size="4.9" font-weight="bold" fill="#111" stroke="#111" stroke-width="0.12">9.538</text>
<path d="M614.5,267.1L623.2,265V251.5" fill="none" stroke="#1a1a1a" stroke-width="0.8"/>
<text transform="translate(618.90,40.10) rotate(-90) scale(1,1.0)" font-family='"Liberation Sans", sans-serif' font-size="4.7" font-weight="bold" fill="#111" stroke="#111" stroke-width="0.15">9.625</text>
<text transform="translate(601.50,103.00) rotate(-90) scale(1,1.0)" font-family='"Liberation Serif", serif' font-size="8.1" font-weight="normal" fill="#111" stroke="#111" stroke-width="0.2">E7080</text>
<line x1="597.40" y1="106.50" x2="611.90" y2="173.90" stroke="#1a1a1a" stroke-width="0.95"/><path d="M612.95,178.78L610.12,173.25L613.25,172.58Z" fill="#1a1a1a"/>
<text transform="translate(649.00,215.90) rotate(-90) scale(1,1.0)" font-family='"Liberation Serif", serif' font-size="8.1" font-weight="normal" fill="#111" stroke="#111" stroke-width="0.2">Eluting position of IS</text>
<line x1="646.30" y1="220.30" x2="642.16" y2="258.33" stroke="#1a1a1a" stroke-width="0.95"/><path d="M641.62,263.30L640.68,257.16L643.86,257.50Z" fill="#1a1a1a"/>
<text transform="translate(641.10,257.40) rotate(-90) scale(1,1.0)" font-family='"Liberation Sans", sans-serif' font-size="4.7" font-weight="bold" fill="#111" stroke="#111" stroke-width="0.12">12.276</text>
<text x="600.1" y="327.0" font-family='"Liberation Sans", sans-serif' font-size="12" font-weight="bold" text-anchor="middle" fill="#111">*</text>
</svg></body></html>
